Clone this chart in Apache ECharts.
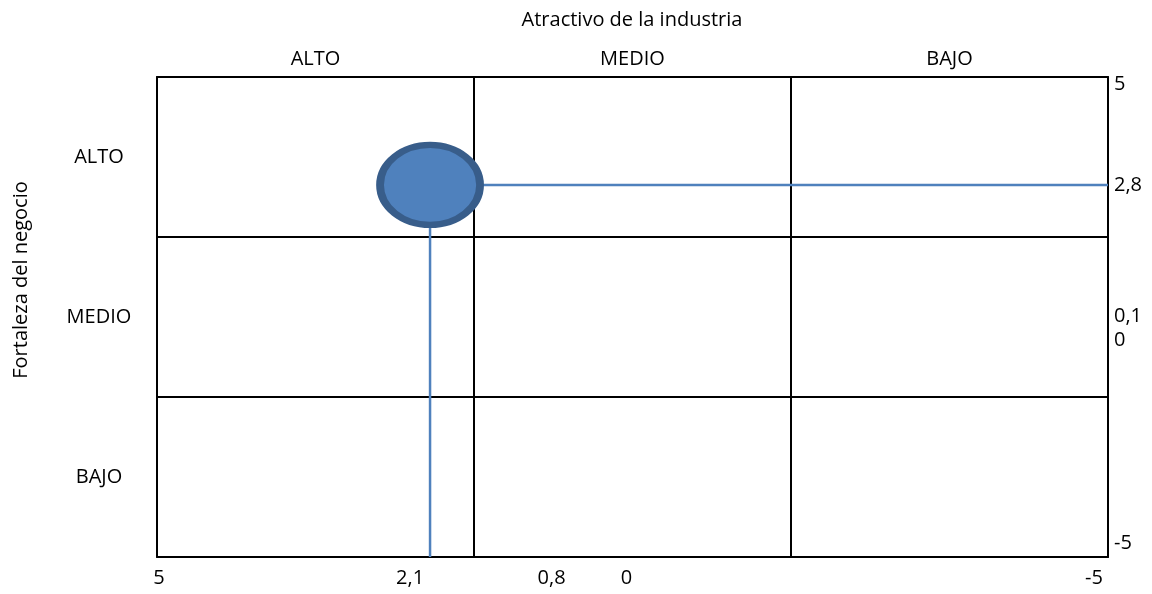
<!DOCTYPE html>
<html>
<head>
<meta charset="utf-8">
<script src="https://cdn.jsdelivr.net/npm/echarts@6/dist/echarts.min.js"></script>
<style>
  html, body { margin: 0; padding: 0; background: #fff; }
  #chart { width: 1152px; height: 594px; }
</style>
</head>
<body>
<div id="chart"></div>
<script>
// Matrix bands (same order on both axes)
const bands = ['ALTO', 'MEDIO', 'BAJO'];
// Score ticks shown along the bottom (industry) and right (business) edges
const xTicks = [5, 2.1, 0.8, 0, -5];
const yTicks = [5, 2.8, 0.1, 0, -5];
// Position of the business unit
const atractivo = [2.1];
const fortaleza = [2.8];

const X_MIN = -5.15, X_MAX = 5.02;
const Y_MIN = -5.3, Y_MAX = 5.15;

const FONT = 'Open Sans';
const FS = 20;
const INK = '#000';
const fmt = v => String(v).replace('.', ',');

const chart = echarts.init(document.getElementById('chart'), null, { renderer: 'canvas' });

chart.setOption({
  animation: false,
  backgroundColor: '#fff',
  textStyle: { fontFamily: FONT, color: INK },
  grid: { left: 157, right: 44, top: 77, bottom: 37, containLabel: false },
  graphic: [
    {
      type: 'text', x: 632, y: 20,
      style: { text: 'Atractivo de la industria', font: FS + 'px "' + FONT + '"', fill: INK,
               textAlign: 'center', textVerticalAlign: 'middle' }
    },
    {
      type: 'text', x: 21, y: 280, rotation: Math.PI / 2,
      style: { text: 'Fortaleza del negocio', font: FS + 'px "' + FONT + '"', fill: INK,
               textAlign: 'center', textVerticalAlign: 'middle' }
    }
  ],
  xAxis: [
    {
      type: 'category', data: bands, position: 'top', boundaryGap: true,
      axisLine: { show: true, onZero: false, lineStyle: { color: INK, width: 2 } },
      axisTick: { show: false },
      splitLine: { show: true, lineStyle: { color: INK, width: 2 } },
      axisLabel: { fontFamily: FONT, fontSize: FS, color: INK, margin: 8 }
    },
    {
      type: 'value', position: 'bottom', inverse: true, min: X_MIN, max: X_MAX,
      axisLine: { show: true, onZero: false, lineStyle: { color: INK, width: 2 } },
      axisTick: { show: false },
      splitLine: { show: false },
      axisLabel: {
        customValues: xTicks, margin: 11, color: INK,
        formatter: v => (v === atractivo[0] ? '{s|' + fmt(v) + '}' : '{n|' + fmt(v) + '}'),
        rich: {
          n: { fontFamily: FONT, fontSize: FS, color: INK },
          s: { fontFamily: FONT, fontSize: FS, color: INK, padding: [0, 40, 0, 0] }
        }
      }
    }
  ],
  yAxis: [
    {
      type: 'category', data: bands, inverse: true, position: 'left', boundaryGap: true,
      axisLine: { show: true, onZero: false, lineStyle: { color: INK, width: 2 } },
      axisTick: { show: false },
      splitLine: { show: true, lineStyle: { color: INK, width: 2 } },
      axisLabel: { fontFamily: FONT, fontSize: FS, color: INK, margin: 58, align: 'center' }
    },
    {
      type: 'value', position: 'right', min: Y_MIN, max: Y_MAX,
      axisLine: { show: true, onZero: false, lineStyle: { color: INK, width: 2 } },
      axisTick: { show: false },
      splitLine: { show: false },
      axisLabel: {
        customValues: yTicks, margin: 6, color: INK, align: 'left',
        formatter: v => (v === 0 ? '{d|' + fmt(v) + '}'
                        : v === 0.1 ? '{u|' + fmt(v) + '}'
                        : '{n|' + fmt(v) + '}'),
        rich: {
          n: { fontFamily: FONT, fontSize: FS, color: INK },
          u: { fontFamily: FONT, fontSize: FS, color: INK, padding: [14, 0, 0, 0] },
          d: { fontFamily: FONT, fontSize: FS, color: INK, padding: [54, 0, 0, 0] }
        }
      }
    }
  ],
  series: [
    {
      // guide lines from the unit out to the right and bottom edges
      type: 'line', xAxisIndex: 1, yAxisIndex: 1, z: 2,
      symbol: 'none', silent: true,
      lineStyle: { color: '#4F81BD', width: 2.5 },
      data: [[X_MIN, fortaleza[0]], [atractivo[0], fortaleza[0]], [atractivo[0], Y_MIN]]
    },
    {
      type: 'scatter', xAxisIndex: 1, yAxisIndex: 1, z: 5,
      symbol: 'circle', symbolSize: [100, 80],
      itemStyle: { color: '#4F81BD', borderColor: '#385D8A', borderWidth: 7, opacity: 1 },
      data: atractivo.map((x, i) => [x, fortaleza[i]])
    }
  ]
});
</script>
</body>
</html>
